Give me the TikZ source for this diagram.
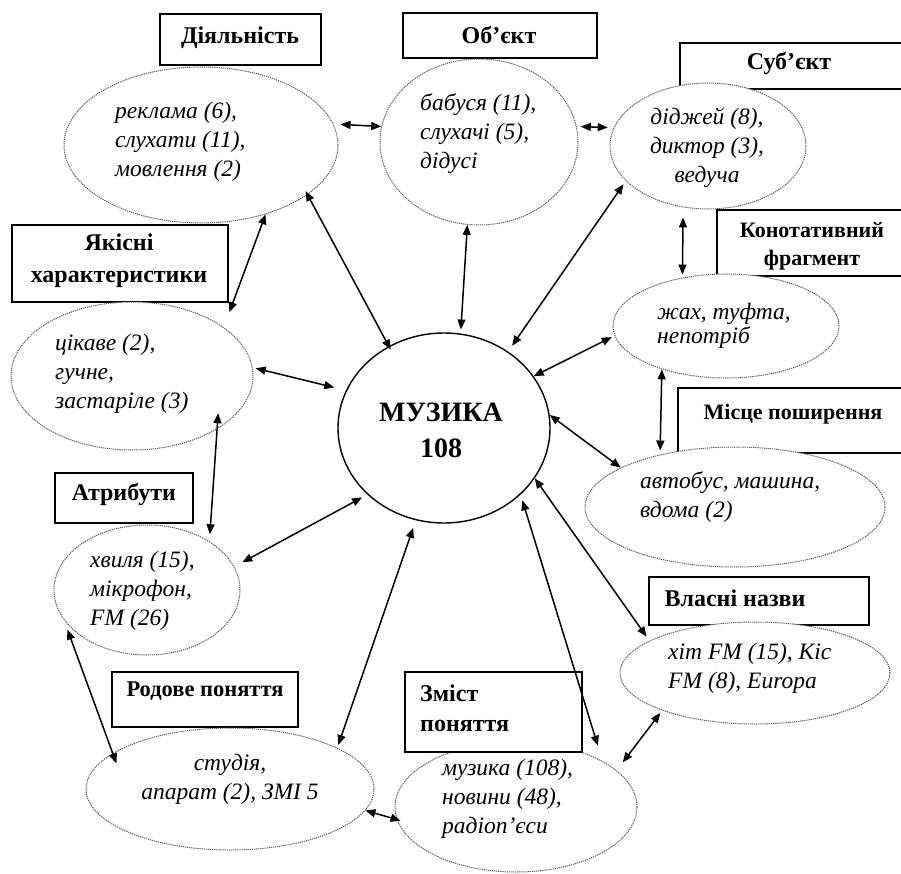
\documentclass[tikz,border=0pt]{standalone}
\usepackage{fontspec}
\setmainfont{Liberation Serif}
\usetikzlibrary{shapes.geometric,arrows.meta}
\begin{document}
\begin{tikzpicture}[x=1pt,y=-1pt,
  box/.style={draw, rectangle, line width=1.8pt, fill=white, inner sep=0pt},
  ell/.style={ellipse, draw=black!65, line width=1pt, dash pattern=on 1.2pt off 0.9pt, fill=white, inner sep=0pt},
  lbl/.style={font=\bfseries\fontsize{24}{30}\selectfont, inner sep=0pt, align=center},
  itx/.style={font=\itshape\fontsize{23.5}{29}\selectfont, inner sep=0pt, align=left, anchor=west},
  itc/.style={font=\itshape\fontsize{23.5}{29}\selectfont, inner sep=0pt, align=center},
  link/.style={<->, >={Triangle[length=10pt,width=8pt]}, line width=1.5pt},
]
\useasboundingbox (0,0) rectangle (901,874);
\fill[white] (0,0) rectangle (901,874);

% boxes (under ellipses)
\node[box, minimum width=161pt, minimum height=51pt] (bA) at (240.5,39.5) {};
\node[box, minimum width=194pt, minimum height=45pt] (bB) at (500,35.5) {};
\node[box, minimum width=230pt, minimum height=46pt] (bC) at (795,66) {};
\node[box, minimum width=193pt, minimum height=66pt] (bD) at (813.5,243) {};
\node[box, minimum width=232pt, minimum height=65pt] (bE) at (794,420.5) {};
\node[box, minimum width=216pt, minimum height=77pt] (bF) at (120,263.5) {};
\node[box, minimum width=138pt, minimum height=50pt] (bG) at (124,498) {};
\node[box, minimum width=186pt, minimum height=55pt] (bH) at (205,699.5) {};
\node[box, minimum width=220pt, minimum height=48pt] (bJ) at (759,601) {};

% ellipses
\node[ell, minimum width=274pt, minimum height=156pt] (dA) at (201,145) {};
\node[ell, minimum width=198pt, minimum height=166pt] (dB) at (479,142) {};
\node[ell, minimum width=196pt, minimum height=126pt] (dC) at (708,146) {};
\node[ell, minimum width=226pt, minimum height=104pt] (dD) at (726,326) {};
\node[ell, minimum width=300pt, minimum height=120pt] (dE) at (735,507) {};
\node[ell, minimum width=242pt, minimum height=148pt] (dF) at (132,376) {};
\node[ell, minimum width=186pt, minimum height=130pt] (dG) at (147,590) {};
\node[ell, minimum width=288pt, minimum height=122pt] (dH) at (230,789) {};
\node[ell, minimum width=242pt, minimum height=130pt] (dI) at (516,807) {};
\node[ell, minimum width=270pt, minimum height=102pt] (dJ) at (755,673) {};
\node[ellipse, draw, line width=1.4pt, fill=white, inner sep=0pt, minimum width=212pt, minimum height=190pt] (M) at (444,428) {};

% box over its ellipse
\node[box, minimum width=177pt, minimum height=80pt] (bI) at (493.5,712) {};

% box labels
\node[lbl] (lA) at (240,38) {Діяльність};
\node[lbl] (lB) at (499,35) {Об’єкт};
\node[lbl] (lC) at (789,64) {Суб’єкт};
\node[lbl, font=\bfseries\fontsize{22}{28}\selectfont] (lD) at (812,246) {Конотативний\\фрагмент};
\node[lbl, font=\bfseries\fontsize{22}{28}\selectfont] (lE) at (793,414) {Місце поширення};
\node[lbl, font=\bfseries\fontsize{24}{32}\selectfont] (lF) at (119,261) {Якісні\\характеристики};
\node[lbl] (lG) at (124,494) {Атрибути};
\node[lbl, font=\bfseries\fontsize{22.5}{28}\selectfont] (lH) at (205,691) {Родове поняття};
\node[lbl, align=left, anchor=west] (lI) at (420,708) {Зміст\\поняття};
\node[lbl] (lJ) at (735,598) {Власні назви};

% ellipse texts
\node[itx] (tA) at (115,142) {реклама (6),\\слухати (11),\\мовлення (2)};
\node[itx] (tB) at (420,134) {бабуся (11),\\слухачі (5),\\дідусі};
\node[itc] (tC) at (707,148) {діджей (8),\\диктор (3),\\ведуча};
\node[itx, font=\itshape\fontsize{23.5}{24}\selectfont] (tD) at (657,326) {жах, туфта,\\непотріб};
\node[itx] (tE) at (640,497) {автобус, машина,\\вдома (2)};
\node[itx] (tF) at (55,374) {цікаве (2),\\гучне,\\застаріле (3)};
\node[itx] (tG) at (90,591) {хвиля (15),\\мікрофон,\\FM (26)};
\node[itc] (tH) at (230,779) {студія,\\апарат (2), ЗМІ 5};
\node[itx] (tI) at (442,799) {музика (108),\\новини (48),\\радіоп’єси};
\node[itx] (tJ) at (668,668) {хіт FM (15), Кіс\\FM (8), Europa};
\node[lbl, font=\bfseries\fontsize{28}{36}\selectfont] (tM) at (441,430) {МУЗИКА\\108};

% connectors
\draw[link, shorten <=7pt] (dA.9) -- (dB.171);
\draw[link, shorten <=4pt, shorten >=6pt] (dB.9) -- (dC.169);
\draw[link, shorten >=16pt] (dA.-47) -- (dF.28);
\draw[link, shorten <=-4pt, shorten >=-4pt] (dA.-25) -- (M.124);
\draw[link, shorten >=4pt] (dB.-98) -- (M.80);
\draw[link, shorten <=4pt, shorten >=7pt] (dC.-157) -- (M.50);
\draw[link, shorten <=10pt, shorten >=3pt] (dC.-112) -- (dD.132);
\draw[link, shorten <=3pt] (dD.-175) -- (M.30);
\draw[link, shorten >=4pt] (dD.-146) -- (dE.145);
\draw[link] (dE.161) -- (M.7);
\draw[link, shorten <=5pt] (dJ.163) -- (M.-29);
\draw[link, shorten <=16pt, shorten >=6pt] (dI.28) -- (M.-41);
\draw[link, shorten <=10pt, shorten >=3pt] (dI.20) -- (dJ.-158);
\draw[link, shorten <=3pt, shorten >=8pt] (dH.21) -- (M.-107);
\draw[link, shorten <=9pt, shorten >=6pt] (dG.15) -- (M.-139);
\draw[link, shorten <=3pt, shorten >=12pt] (dF.4) -- (M.159);
\draw[link, shorten <=-16pt, shorten >=7pt] (dF.-32) -- (dG.38);
\draw[link, shorten <=10pt, shorten >=-11pt] (dG.-160) -- (dH.163);
\draw[link, shorten >=-4pt] (dH.-9) -- (dI.-174);
\end{tikzpicture}
\end{document}
